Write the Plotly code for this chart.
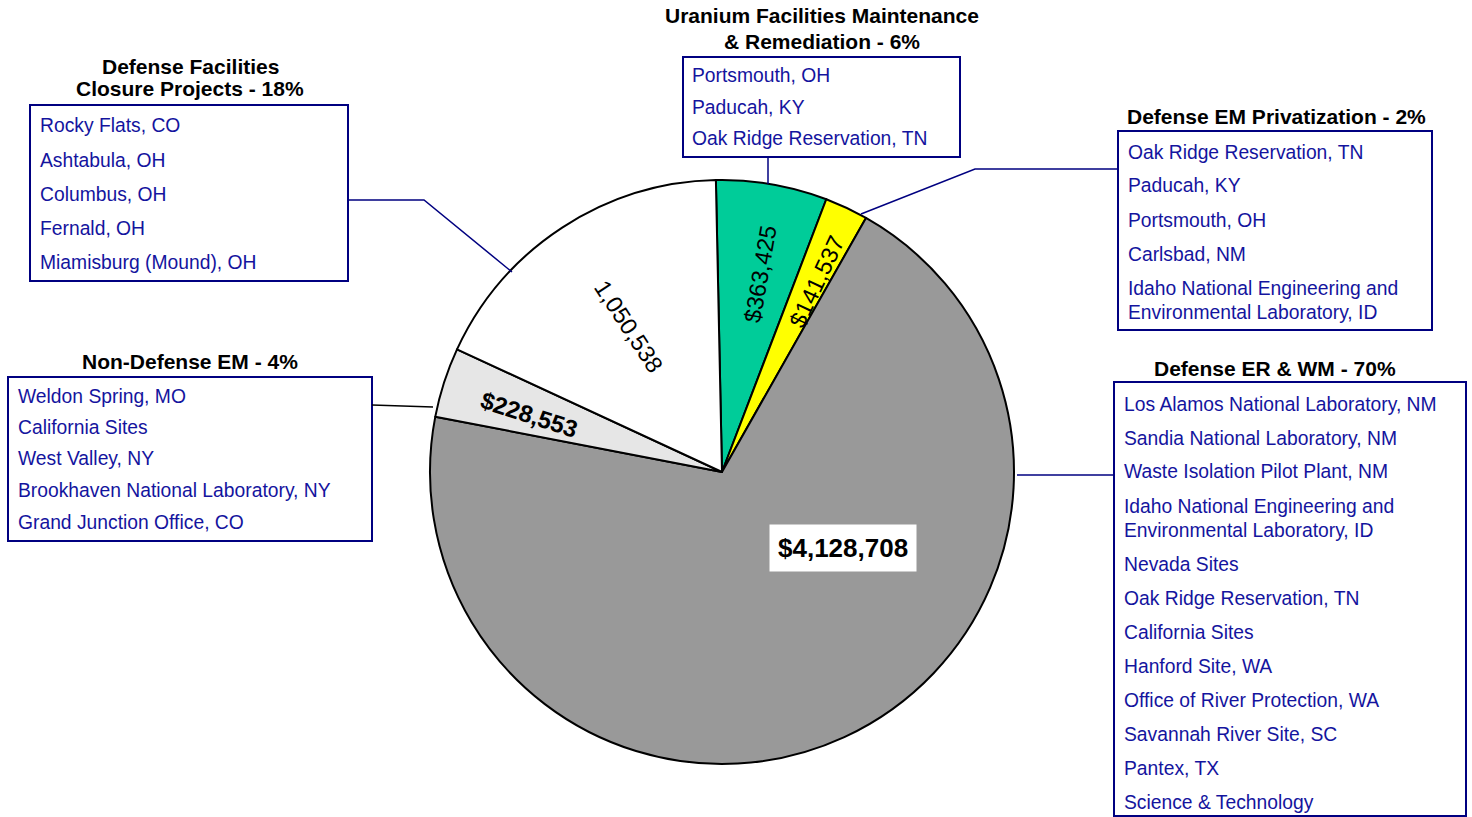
import math
import plotly.graph_objects as go

W, H = 1472, 817

# ---------------- data ----------------
categories = [
    "Uranium Facilities Maintenance & Remediation",
    "Defense EM Privatization",
    "Defense ER & WM",
    "Non-Defense EM",
    "Defense Facilities Closure Projects",
]
values = [363425, 141537, 4128708, 228553, 1050538]
value_labels = ["$363,425", "$141,537", "$4,128,708", "$228,553", "1,050,538"]
slice_colors = ["#00CC99", "#FFFF00", "#999999", "#E6E6E6", "#FFFFFF"]

titles = [
    ["Uranium Facilities Maintenance", "& Remediation - 6%"],
    ["Defense EM Privatization - 2%"],
    ["Defense ER & WM - 70%"],
    ["Non-Defense EM - 4%"],
    ["Defense Facilities", "Closure Projects - 18%"],
]

uranium_sites = ["Portsmouth, OH", "Paducah, KY", "Oak Ridge Reservation, TN"]
privatization_sites = [
    "Oak Ridge Reservation, TN",
    "Paducah, KY",
    "Portsmouth, OH",
    "Carlsbad, NM",
    "Idaho National Engineering and\nEnvironmental Laboratory, ID",
]
er_wm_sites = [
    "Los Alamos National Laboratory, NM",
    "Sandia National Laboratory, NM",
    "Waste Isolation Pilot Plant, NM",
    "Idaho National Engineering and\nEnvironmental Laboratory, ID",
    "Nevada Sites",
    "Oak Ridge Reservation, TN",
    "California Sites",
    "Hanford Site, WA",
    "Office of River Protection, WA",
    "Savannah River Site, SC",
    "Pantex, TX",
    "Science & Technology",
]
non_defense_sites = [
    "Weldon Spring, MO",
    "California Sites",
    "West Valley, NY",
    "Brookhaven National Laboratory, NY",
    "Grand Junction Office, CO",
]
closure_sites = [
    "Rocky Flats, CO",
    "Ashtabula, OH",
    "Columbus, OH",
    "Fernald, OH",
    "Miamisburg (Mound), OH",
]
site_lists = [uranium_sites, privatization_sites, er_wm_sites, non_defense_sites, closure_sites]

# ---------------- layout constants (pixels) ----------------
CX, CY, R = 722, 472, 292
ROT = -1.2

# label placement within slice: (fraction of slice angle, fraction of radius, size, bold, radial)
label_style = [
    (0.556, 0.69, 23.5, False, True),
    (0.66, 0.73, 23.5, False, True),
    (0.369, 0.49, 26, True, False),
    (0.40, 0.69, 24, True, True),
    (0.507, 0.59, 23.5, False, True),
]

box_specs = [
    dict(rect=(683, 57, 960, 157), tcx=822, ty=[16, 42], ix=690, iy=76, step=31,
         leader=[(768, 157), (768, 184)], lcolor="#000080"),
    dict(rect=(1118, 131, 1432, 330), tcx=1276, ty=[116], ix=1126, iy=152, step=34,
         leader=[(1118, 169), (975, 169), (861, 214)], lcolor="#000080"),
    dict(rect=(1114, 382, 1466, 816), tcx=1275, ty=[369], ix=1122, iy=404, step=34,
         leader=[(1017, 475), (1114, 475)], lcolor="#000080"),
    dict(rect=(8, 377, 372, 541), tcx=190, ty=[361], ix=16, iy=396, step=31.5,
         leader=[(372, 405), (433, 407)], lcolor="#000000"),
    dict(rect=(30, 105, 348, 281), tcx=190, ty=[67, 89], ix=38, iy=126, step=34,
         leader=[(348, 200), (424, 200), (512, 272)], lcolor="#000080"),
]

ITEM_COLOR = "#14149E"
BOX_COLOR = "#000080"
FONT = "Liberation Sans, Arial, sans-serif"


def px(x):
    return x / W


def py(y):
    return 1 - y / H


fig = go.Figure()
fig.add_trace(go.Pie(
    labels=categories,
    values=values,
    sort=False,
    direction="clockwise",
    rotation=ROT,
    marker=dict(colors=slice_colors, line=dict(color="#000000", width=2)),
    textinfo="none",
    hoverinfo="label+value",
    showlegend=False,
    domain=dict(x=[px(CX - R), px(CX + R)], y=[py(CY + R), py(CY - R)]),
))

annotations = []
shapes = []

# value labels
total = sum(values)
cum = 0.0
for v, txt, (af, rf, size, bold, radial) in zip(values, value_labels, label_style):
    start = ROT + 360 * cum / total
    span = 360 * v / total
    cum += v
    a = start + af * span
    mid = start + span / 2
    x = CX + rf * R * math.sin(math.radians(a))
    y = CY - rf * R * math.cos(math.radians(a))
    if radial:
        ang = mid - 90 if math.sin(math.radians(mid)) >= 0 else mid - 270
    else:
        ang = 0
    t = f"<b>{txt}</b>" if bold else txt
    ann = dict(x=px(x), y=py(y), xref="paper", yref="paper", text=t, showarrow=False,
               textangle=ang, xanchor="center", yanchor="middle",
               font=dict(family=FONT, size=size, color="#000000"))
    if not radial:
        ann.update(bgcolor="#FFFFFF", borderpad=8)
    annotations.append(ann)

# callout boxes
for spec, tl, sites in zip(box_specs, titles, site_lists):
    x0, y0, x1, y1 = spec["rect"]
    shapes.append(dict(type="rect", xref="paper", yref="paper",
                       x0=px(x0), x1=px(x1), y0=py(y1), y1=py(y0),
                       line=dict(color=BOX_COLOR, width=2), fillcolor="rgba(0,0,0,0)"))
    pts = spec["leader"]
    path = "M " + " L ".join(f"{px(a)},{py(b)}" for a, b in pts)
    shapes.append(dict(type="path", xref="paper", yref="paper", path=path,
                       line=dict(color=spec["lcolor"], width=1.5)))
    for line, ty in zip(tl, spec["ty"]):
        annotations.append(dict(x=px(spec["tcx"]), y=py(ty), xref="paper", yref="paper",
                                text=f"<b>{line}</b>", showarrow=False,
                                xanchor="center", yanchor="middle",
                                font=dict(family=FONT, size=21, color="#000000")))
    y = spec["iy"]
    for s in sites:
        parts = s.split("\n")
        for j, p in enumerate(parts):
            annotations.append(dict(x=px(spec["ix"]), y=py(y + 24 * j), xref="paper", yref="paper",
                                    text=p, showarrow=False, xanchor="left", yanchor="middle",
                                    font=dict(family=FONT, size=19.3, color=ITEM_COLOR)))
        y += spec["step"] + 24 * (len(parts) - 1)

fig.update_layout(
    width=W, height=H,
    margin=dict(l=0, r=0, t=0, b=0),
    paper_bgcolor="#FFFFFF",
    plot_bgcolor="#FFFFFF",
    annotations=annotations,
    shapes=shapes,
    showlegend=False,
)

fig.write_html(
    "out.html",
    config={"displayModeBar": False},
    post_script="document.body.style.margin='0';document.body.style.overflow='hidden';",
)
